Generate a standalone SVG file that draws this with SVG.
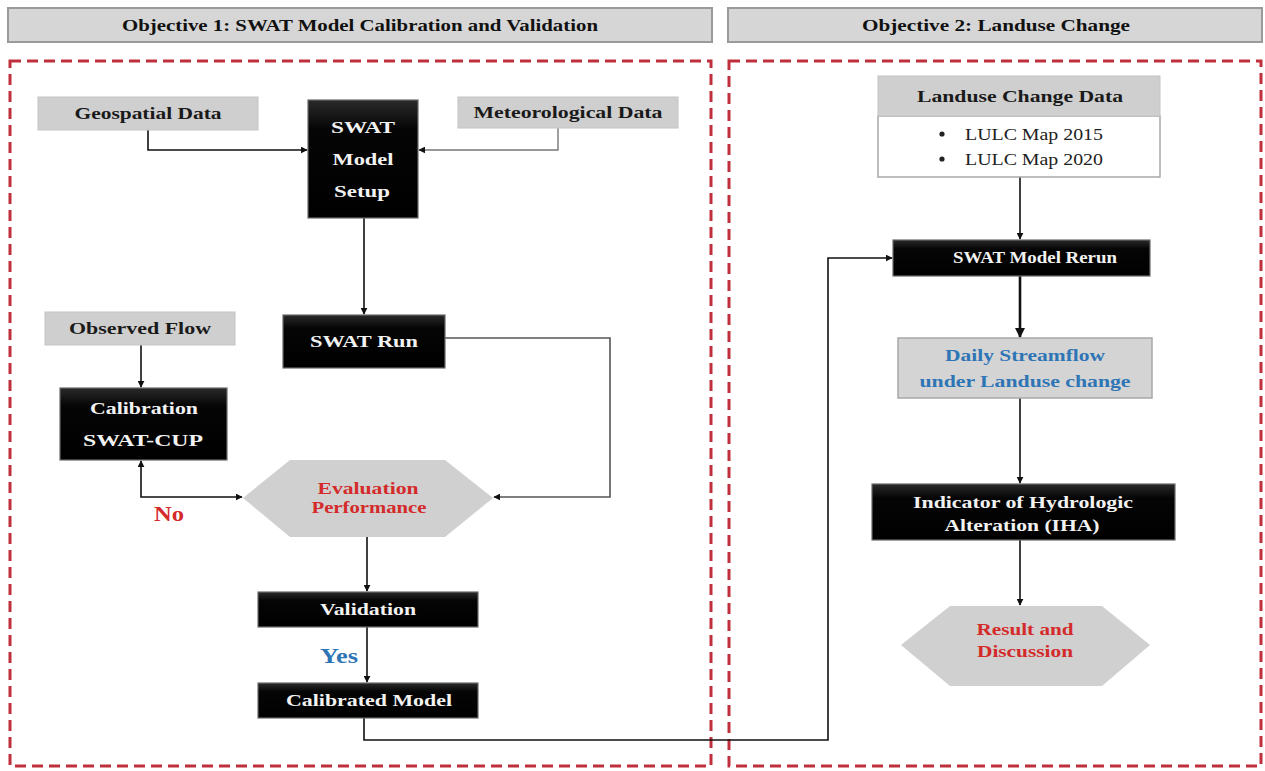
<svg xmlns="http://www.w3.org/2000/svg" width="1265" height="771" viewBox="0 0 1265 771">
<style>
text{font-family:"Liberation Serif","Times New Roman",serif;font-weight:bold;text-anchor:middle;dominant-baseline:central;font-size:16px}
.hdr{fill:#d6d6d6;stroke:#9a9a9a;stroke-width:2}
.hdrt{fill:#111}
.gray{fill:#cfcfcf;stroke:#c4c4c4;stroke-width:1}
.gt{fill:#1a1a1a}
.blk{fill:url(#bg);stroke:#6a6a6a;stroke-width:1.2}
.wt{fill:#f2f2f2}
.dash{fill:none;stroke:#c0303c;stroke-width:3;stroke-dasharray:11 6}
.hex{fill:#d0d0d0}
.red{fill:#d42a2a}
.blue{fill:#2e75b6}
.ln{fill:none;stroke:#111;stroke-width:1.6}
.reg{font-weight:normal;fill:#222;text-anchor:start}
</style>
<defs>
<linearGradient id="bg" x1="0" y1="0" x2="0" y2="1">
<stop offset="0" stop-color="#2a2a2a"/><stop offset="0.25" stop-color="#050505"/><stop offset="1" stop-color="#000"/>
</linearGradient>
<marker id="ah" viewBox="0 0 10 10" refX="9" refY="5" markerWidth="7" markerHeight="7" markerUnits="userSpaceOnUse" orient="auto-start-reverse">
<path d="M0,0 L10,5 L0,10 z" fill="#111"/>
</marker>
<marker id="ahb" viewBox="0 0 10 10" refX="9" refY="5" markerWidth="10" markerHeight="10" markerUnits="userSpaceOnUse" orient="auto-start-reverse">
<path d="M0,0 L10,5 L0,10 z" fill="#111"/>
</marker>
</defs>
<rect width="1265" height="771" fill="#ffffff"/>

<g id="header1"><rect class="hdr" x="8" y="8" width="704" height="34"/><text class="hdrt" x="360" y="25" textLength="476" lengthAdjust="spacingAndGlyphs">Objective 1: SWAT Model Calibration and Validation</text></g>
<g id="header2"><rect class="hdr" x="728" y="8" width="534" height="34"/><text class="hdrt" x="996" y="25" textLength="268" lengthAdjust="spacingAndGlyphs">Objective 2: Landuse Change</text></g>

<g id="panel1"><rect class="dash" x="10" y="61" width="701" height="705"/></g>
<g id="panel2"><rect class="dash" x="729" y="61" width="532" height="705"/></g>

<g id="connectors">
<path class="ln" d="M148,130 V150 H307" marker-end="url(#ah)"/>
<path d="M558,128 V150 H419" fill="none" stroke="#777" stroke-width="1.4" marker-end="url(#ah)"/>
<path class="ln" d="M364,218 V314" marker-end="url(#ah)"/>
<path d="M445,338 H610 V497 H494" fill="none" stroke="#555" stroke-width="1.6" marker-end="url(#ah)"/>
<path class="ln" d="M141,345 V387" marker-end="url(#ah)"/>
<path class="ln" d="M242,497 H141 V461" marker-start="url(#ah)" marker-end="url(#ah)"/>
<path class="ln" d="M367,537 V591" marker-end="url(#ah)"/>
<path class="ln" d="M367,627 V682" marker-end="url(#ah)"/>
<path class="ln" d="M364,718 V740 H828 V258 H892" marker-end="url(#ah)"/>
<path class="ln" d="M1020,177 V239" marker-end="url(#ah)"/>
<path d="M1020,276 V337" fill="none" stroke="#111" stroke-width="2.6" marker-end="url(#ahb)"/>
<path class="ln" d="M1020,398 V483" marker-end="url(#ah)"/>
<path class="ln" d="M1020,540 V605" marker-end="url(#ah)"/>
</g>

<g id="geospatial"><rect class="gray" x="38" y="97" width="220" height="33"/><text class="gt" x="148" y="113" textLength="147" lengthAdjust="spacingAndGlyphs">Geospatial Data</text></g>
<g id="meteorological"><rect class="gray" x="458" y="97" width="220" height="31"/><text class="gt" x="568" y="112" textLength="189" lengthAdjust="spacingAndGlyphs">Meteorological Data</text></g>
<g id="swat-setup"><rect class="blk" x="308" y="100" width="110" height="118"/>
<text class="wt" x="363" y="127" textLength="64" lengthAdjust="spacingAndGlyphs">SWAT</text><text class="wt" x="363" y="159" textLength="61" lengthAdjust="spacingAndGlyphs">Model</text><text class="wt" x="362" y="191" textLength="56" lengthAdjust="spacingAndGlyphs">Setup</text></g>
<g id="swat-run"><rect class="blk" x="283" y="315" width="162" height="53"/><text class="wt" x="364" y="341" textLength="108" lengthAdjust="spacingAndGlyphs">SWAT Run</text></g>
<g id="observed"><rect class="gray" x="45" y="312" width="190" height="33"/><text class="gt" x="140" y="328" textLength="142" lengthAdjust="spacingAndGlyphs">Observed Flow</text></g>
<g id="calibration"><rect class="blk" x="60" y="388" width="167" height="72"/>
<text class="wt" x="144" y="408" textLength="108" lengthAdjust="spacingAndGlyphs">Calibration</text><text class="wt" x="143" y="440" textLength="120" lengthAdjust="spacingAndGlyphs">SWAT-CUP</text></g>
<g id="evaluation"><polygon class="hex" points="243,498 290,460 445,460 493,498 445,537 290,537"/>
<text class="red" x="368" y="488" textLength="101" lengthAdjust="spacingAndGlyphs">Evaluation</text><text class="red" x="369" y="507" textLength="115" lengthAdjust="spacingAndGlyphs">Performance</text></g>
<g id="no-label"><text class="red" x="169" y="514" style="font-size:20px" textLength="30" lengthAdjust="spacingAndGlyphs">No</text></g>
<g id="validation"><rect class="blk" x="258" y="592" width="220" height="35"/><text class="wt" x="368" y="609" textLength="96" lengthAdjust="spacingAndGlyphs">Validation</text></g>
<g id="yes-label"><text class="blue" x="339" y="656" style="font-size:20px" textLength="38" lengthAdjust="spacingAndGlyphs">Yes</text></g>
<g id="calibrated"><rect class="blk" x="258" y="683" width="220" height="35"/><text class="wt" x="369" y="700" textLength="166" lengthAdjust="spacingAndGlyphs">Calibrated Model</text></g>

<g id="landuse-data"><rect x="878" y="116" width="282" height="61" fill="#fff" stroke="#a8a8a8" stroke-width="1.5"/>
<rect class="gray" x="878" y="76" width="282" height="40"/><text class="gt" x="1020" y="96" textLength="206" lengthAdjust="spacingAndGlyphs">Landuse Change Data</text>
<circle cx="942" cy="134" r="2.6" fill="#222"/><circle cx="942" cy="159" r="2.6" fill="#222"/>
<text class="reg" x="965" y="134" textLength="138" lengthAdjust="spacingAndGlyphs">LULC Map 2015</text><text class="reg" x="965" y="159" textLength="138" lengthAdjust="spacingAndGlyphs">LULC Map 2020</text></g>
<g id="swat-rerun"><rect class="blk" x="893" y="240" width="257" height="36"/><text class="wt" x="1035" y="257" textLength="164" lengthAdjust="spacingAndGlyphs">SWAT Model Rerun</text></g>
<g id="daily"><rect x="898" y="338" width="254" height="60" fill="#d4d4d4" stroke="#a8a8a8" stroke-width="1.5"/>
<text class="blue" x="1025" y="355" textLength="160" lengthAdjust="spacingAndGlyphs">Daily Streamflow</text><text class="blue" x="1025" y="381" textLength="211" lengthAdjust="spacingAndGlyphs">under Landuse change</text></g>
<g id="iha"><rect class="blk" x="872" y="484" width="303" height="56"/>
<text class="wt" x="1023" y="502" textLength="220" lengthAdjust="spacingAndGlyphs">Indicator of Hydrologic</text><text class="wt" x="1022" y="525" textLength="155" lengthAdjust="spacingAndGlyphs">Alteration (IHA)</text></g>
<g id="result"><polygon class="hex" points="901,645 950,606 1102,606 1150,645 1102,686 950,686"/>
<text class="red" x="1025" y="629" textLength="97" lengthAdjust="spacingAndGlyphs">Result and</text><text class="red" x="1025" y="651" textLength="96" lengthAdjust="spacingAndGlyphs">Discussion</text></g>
</svg>
